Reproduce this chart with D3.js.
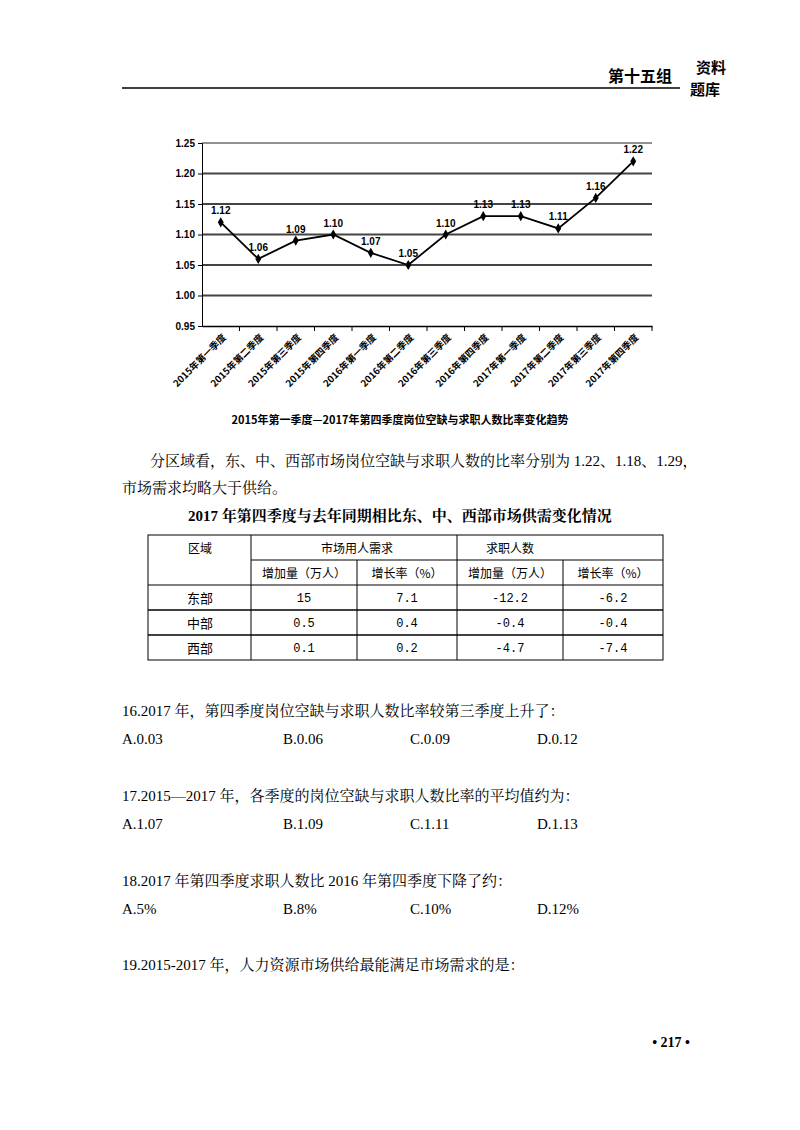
<!DOCTYPE html>
<html><head><meta charset="utf-8">
<script src="https://cdn.jsdelivr.net/npm/d3@7"></script>
<style>body{margin:0;background:#fff}</style></head>
<body><svg id="s" width="800" height="1130"></svg>
<script>
const categories=["2015年第一季度","2015年第二季度","2015年第三季度","2015年第四季度","2016年第一季度","2016年第二季度","2016年第三季度","2016年第四季度","2017年第一季度","2017年第二季度","2017年第三季度","2017年第四季度"];
const values=[1.12,1.06,1.09,1.10,1.07,1.05,1.10,1.13,1.13,1.11,1.16,1.22];
const yTicks=[0.95,1.00,1.05,1.10,1.15,1.20,1.25];
const tableHead=["区域","市场用人需求","求职人数"];
const subHead=["增加量（万人）","增长率（%）","增加量（万人）","增长率（%）"];
const regions=["东部","中部","西部"];
const tableRows=[["15","7.1","-12.2","-6.2"],["0.5","0.4","-0.4","-0.4"],["0.1","0.2","-4.7","-7.4"]];
const questions=[
 ["16.2017 年，第四季度岗位空缺与求职人数比率较第三季度上升了：",["A.0.03","B.0.06","C.0.09","D.0.12"]],
 ["17.2015—2017 年，各季度的岗位空缺与求职人数比率的平均值约为：",["A.1.07","B.1.09","C.1.11","D.1.13"]],
 ["18.2017 年第四季度求职人数比 2016 年第四季度下降了约：",["A.5%","B.8%","C.10%","D.12%"]],
 ["19.2015-2017 年，人力资源市场供给最能满足市场需求的是：",[]]];

const svg=d3.select("#s");
const serif="'Liberation Serif','Noto Serif CJK SC','Noto Sans CJK SC',serif";
const cjk="'Noto Sans CJK SC',sans-serif";
const T=(x0,y0,t,o={})=>svg.append("text").attr("x",x0).attr("y",y0).attr("font-family",o.f||serif).attr("font-size",o.s||15).attr("font-weight",o.b?"bold":"normal").attr("text-anchor",o.a||"start").text(t);
// header
T(672,82,"第十五组",{f:cjk,s:16,b:1,a:"end"});
T(696,73,"资料",{f:cjk,s:15,b:1});
T(690,95,"题库",{f:cjk,s:15,b:1});
svg.append("line").attr("x1",122).attr("x2",680).attr("y1",88).attr("y2",88).attr("stroke","#000").attr("stroke-width",1.5);

// chart
const x=d3.scaleBand().domain(categories).range([202,652]);
const y=d3.scaleLinear().domain([0.95,1.25]).range([326,143]);
const g=svg.append("g");
yTicks.slice(1).forEach(t=>g.append("line").attr("x1",202).attr("x2",652).attr("y1",y(t)).attr("y2",y(t)).attr("stroke",t==1.25?"#222":"#444").attr("stroke-width",t==1.25?1:2));
g.append("g").attr("transform","translate(202,0)").call(d3.axisLeft(y).tickValues(yTicks).tickFormat(d3.format(".2f")).tickSize(4))
 .call(a=>a.selectAll("text").attr("font-family","'Liberation Sans',sans-serif").attr("font-size",10).attr("font-weight","bold"));
g.append("g").attr("transform","translate(0,326)").call(d3.axisBottom(x).tickValues([]).tickSizeOuter(0))
 .call(a=>a.select(".domain").attr("stroke-width",1.5));
categories.forEach((c,i)=>{ if(i>0) g.append("line").attr("x1",x(c)).attr("x2",x(c)).attr("y1",326).attr("y2",331).attr("stroke","#000");});
g.append("line").attr("x1",652).attr("x2",652).attr("y1",326).attr("y2",331).attr("stroke","#000");
const cx=c=>x(c)+x.bandwidth()/2;
g.append("path").datum(values).attr("fill","none").attr("stroke","#000").attr("stroke-width",1.8)
 .attr("d",d3.line().x((d,i)=>cx(categories[i])).y(d=>y(d)));
values.forEach((v,i)=>{
 const px=cx(categories[i]),py=y(v);
 g.append("path").attr("d",d3.symbol(d3.symbolDiamond,30)()).attr("transform",`translate(${px},${py})`).attr("fill","#000");
 g.append("text").attr("x",px).attr("y",py-8).attr("text-anchor","middle").attr("font-family","'Liberation Sans',sans-serif").attr("font-size",10).attr("font-weight","bold").text(v.toFixed(2));
 g.append("text").attr("transform",`translate(${px+6},${338}) rotate(-45)`).attr("text-anchor","end").attr("font-family",cjk).attr("font-size",9.5).attr("font-weight","bold").text(categories[i]);
});
T(400,424,"2015年第一季度—2017年第四季度岗位空缺与求职人数比率变化趋势",{f:cjk,s:11,b:1,a:"middle"});

// paragraph
T(150,466,"分区域看，东、中、西部市场岗位空缺与求职人数的比率分别为 1.22、1.18、1.29，");
T(122,493,"市场需求均略大于供给。");
T(400,521,"2017 年第四季度与去年同期相比东、中、西部市场供需变化情况",{s:15,b:1,a:"middle"});

// table
const cols=[148,251,357,457,563,663];
const rowsY=[535,560,585,610,635,660];
const tb=svg.append("g").attr("stroke","#000");
tb.append("rect").attr("x",148).attr("y",535).attr("width",515).attr("height",125).attr("fill","none");
[585,610,635].forEach(yy=>tb.append("line").attr("x1",148).attr("x2",663).attr("y1",yy).attr("y2",yy).attr("stroke-width",yy==585?1:1.5));
tb.append("line").attr("x1",251).attr("x2",663).attr("y1",560).attr("y2",560);
cols.slice(1,5).forEach((cx0,i)=>tb.append("line").attr("x1",cx0).attr("x2",cx0).attr("y1",(i==1||i==3)?560:535).attr("y2",660));
const tf={f:cjk,s:12,a:"middle"};
T(200,553,tableHead[0],tf);T(304+0.5*(357-251)/1,553,tableHead[1],tf);T(510,553,tableHead[2],tf);
subHead.forEach((h,i)=>T((cols[i+1]+cols[i+2])/2,578,h,tf));
regions.forEach((r,ri)=>{
 T(200,rowsY[ri+2]+18,r,{f:cjk,s:13,a:"middle"});
 tableRows[ri].forEach((v,ci)=>T((cols[ci+1]+cols[ci+2])/2,rowsY[ri+2]+17,v,{f:"'Liberation Mono',monospace",s:12,a:"middle"}));
});

// questions
const qy=[716,801,886,970];
const ox=[122,283,410,537];
questions.forEach((q,i)=>{
 T(122,qy[i],q[0]);
 q[1].forEach((o,j)=>T(ox[j],qy[i]+28,o));
});
T(690,1047,"• 217 •",{s:14,b:1,a:"end"});
</script></body></html>
